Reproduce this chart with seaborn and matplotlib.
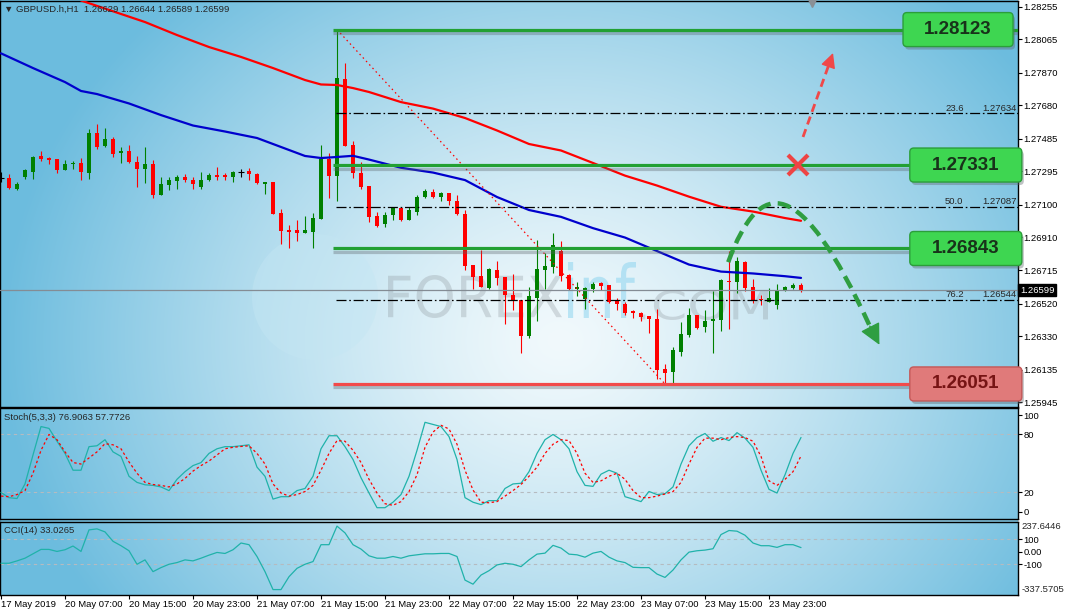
import numpy as np
import pandas as pd
import matplotlib
matplotlib.use('Agg')
import matplotlib.pyplot as plt
import seaborn as sns
import matplotlib.patheffects as pe
from matplotlib.patches import FancyBboxPatch, PathPatch, Circle
from matplotlib.path import Path
from matplotlib.textpath import TextPath
from matplotlib.font_manager import FontProperties
from matplotlib.transforms import Affine2D, IdentityTransform, blended_transform_factory

sns.set_style('white')
plt.rcParams['font.family'] = ['Liberation Sans', 'DejaVu Sans']
plt.rcParams['font.size'] = 6.8

# ---- data: GBPUSD H1, 17 May 23:00 .. 24 May 03:00 (101 bars) ----
o = [1.27255, 1.27255, 1.27190, 1.27261, 1.27290, 1.27384, 1.27374, 1.27366, 1.27302, 1.27335,
     1.27344, 1.27284, 1.27518, 1.27442, 1.27483, 1.27403, 1.27413, 1.27350, 1.27309, 1.27337,
     1.27155, 1.27214, 1.27239, 1.27261, 1.27245, 1.27202, 1.27243, 1.27274, 1.27272, 1.27261,
     1.27290, 1.27294, 1.27280, 1.27221, 1.27231, 1.27048, 1.26952, 1.26951, 1.26935, 1.26941,
     1.27017, 1.27366, 1.27268, 1.27834, 1.27448, 1.27286, 1.27208, 1.27032, 1.26986, 1.27038,
     1.27079, 1.27009, 1.27058, 1.27142, 1.27175, 1.27145, 1.27167, 1.27118, 1.27046, 1.26744,
     1.26685, 1.26611, 1.26717, 1.26676, 1.26574, 1.26543, 1.26332, 1.26554, 1.26717, 1.26734,
     1.26828, 1.26687, 1.26607, 1.26547, 1.26607, 1.26641, 1.26629, 1.26542, 1.26520, 1.26475,
     1.26465, 1.26446, 1.26430, 1.26138, 1.26122, 1.26239, 1.26336, 1.26452, 1.26383, 1.26420,
     1.26426, 1.26652, 1.26648, 1.26762, 1.26617, 1.26547, 1.26531, 1.26513, 1.26594, 1.26613,
     1.26629]
h = [1.27290, 1.27279, 1.27231, 1.27308, 1.27384, 1.27413, 1.27380, 1.27368, 1.27360, 1.27356,
     1.27374, 1.27541, 1.27571, 1.27547, 1.27495, 1.27438, 1.27449, 1.27384, 1.27436, 1.27360,
     1.27261, 1.27262, 1.27272, 1.27276, 1.27261, 1.27290, 1.27284, 1.27319, 1.27284, 1.27296,
     1.27309, 1.27312, 1.27284, 1.27231, 1.27231, 1.27075, 1.26980, 1.27009, 1.27035, 1.27048,
     1.27448, 1.27401, 1.28123, 1.27929, 1.27471, 1.27348, 1.27208, 1.27054, 1.27058, 1.27085,
     1.27085, 1.27083, 1.27154, 1.27189, 1.27189, 1.27173, 1.27167, 1.27157, 1.27066, 1.26744,
     1.26832, 1.26730, 1.26771, 1.26676, 1.26695, 1.26543, 1.26619, 1.26892, 1.26814, 1.26933,
     1.26886, 1.26695, 1.26645, 1.26619, 1.26648, 1.26646, 1.26629, 1.26551, 1.26531, 1.26483,
     1.26471, 1.26446, 1.26489, 1.26167, 1.26268, 1.26413, 1.26498, 1.26457, 1.26483, 1.26594,
     1.26665, 1.26828, 1.26794, 1.26769, 1.26664, 1.26569, 1.26613, 1.26636, 1.26625, 1.26641,
     1.26644]
l = [1.27231, 1.27190, 1.27185, 1.27249, 1.27249, 1.27354, 1.27337, 1.27286, 1.27302, 1.27308,
     1.27243, 1.27249, 1.27425, 1.27436, 1.27378, 1.27344, 1.27343, 1.27204, 1.27227, 1.27139,
     1.27155, 1.27185, 1.27190, 1.27233, 1.27190, 1.27192, 1.27239, 1.27243, 1.27241, 1.27231,
     1.27262, 1.27243, 1.27221, 1.27163, 1.27046, 1.26869, 1.26844, 1.26888, 1.26931, 1.26847,
     1.27017, 1.27138, 1.27122, 1.27444, 1.27256, 1.27189, 1.26996, 1.26966, 1.26966, 1.27011,
     1.27003, 1.27009, 1.27040, 1.27138, 1.27138, 1.27120, 1.27099, 1.27038, 1.26717, 1.26607,
     1.26617, 1.26604, 1.26629, 1.26401, 1.26481, 1.26233, 1.26317, 1.26420, 1.26609, 1.26701,
     1.26652, 1.26598, 1.26566, 1.26487, 1.26590, 1.26601, 1.26524, 1.26483, 1.26455, 1.26437,
     1.26420, 1.26346, 1.26078, 1.26051, 1.26054, 1.26215, 1.26325, 1.26370, 1.26356, 1.26233,
     1.26360, 1.26375, 1.26584, 1.26595, 1.26525, 1.26513, 1.26531, 1.26492, 1.26592, 1.26605,
     1.26589]
c = [1.27255, 1.27196, 1.27220, 1.27302, 1.27378, 1.27366, 1.27362, 1.27302, 1.27337, 1.27344,
     1.27290, 1.27520, 1.27436, 1.27483, 1.27396, 1.27415, 1.27348, 1.27308, 1.27337, 1.27155,
     1.27220, 1.27243, 1.27262, 1.27245, 1.27221, 1.27243, 1.27272, 1.27262, 1.27259, 1.27292,
     1.27290, 1.27278, 1.27227, 1.27231, 1.27046, 1.26947, 1.26939, 1.26935, 1.26952, 1.27023,
     1.27366, 1.27268, 1.27840, 1.27444, 1.27286, 1.27204, 1.27028, 1.26974, 1.27037, 1.27081,
     1.27009, 1.27068, 1.27142, 1.27180, 1.27142, 1.27167, 1.27122, 1.27046, 1.26742, 1.26677,
     1.26617, 1.26721, 1.26672, 1.26572, 1.26539, 1.26332, 1.26564, 1.26724, 1.26740, 1.26863,
     1.26685, 1.26605, 1.26617, 1.26611, 1.26635, 1.26625, 1.26529, 1.26516, 1.26467, 1.26463,
     1.26443, 1.26428, 1.26132, 1.26116, 1.26249, 1.26342, 1.26452, 1.26381, 1.26418, 1.26430,
     1.26659, 1.26646, 1.26767, 1.26611, 1.26537, 1.26539, 1.26553, 1.26592, 1.26617, 1.26628,
     1.26599]

# moving averages, read at every few bars
red_ma_bar = [10, 14, 18, 22, 26, 30, 34, 38, 40, 42, 44, 46, 50, 54, 58, 62, 66, 70, 74, 78,
              82, 86, 90, 94, 98, 100]
red_ma = [1.28293, 1.28230, 1.28167, 1.28091, 1.28021, 1.27963, 1.27898, 1.27828, 1.27802,
          1.27799, 1.27781, 1.27758, 1.27699, 1.27661, 1.27606, 1.27533, 1.27454, 1.27416,
          1.27343, 1.27269, 1.27211, 1.27146, 1.27087, 1.27059, 1.27021, 1.27005]
blue_ma_bar = [0, 4, 8, 10, 12, 16, 20, 24, 28, 32, 36, 38, 40, 42, 44, 46, 50, 54, 58, 62, 66,
               70, 74, 78, 82, 86, 90, 94, 98, 100]
blue_ma = [1.27984, 1.27898, 1.27816, 1.27764, 1.27746, 1.27691, 1.27623, 1.27562, 1.27527,
           1.27489, 1.27419, 1.27384, 1.27372, 1.27378, 1.27385, 1.27363, 1.27315, 1.27287,
           1.27243, 1.27144, 1.27068, 1.27028, 1.26962, 1.26907, 1.26828, 1.26749, 1.26708,
           1.26697, 1.26681, 1.26671]

stoch_main = [20.0, 14.6, 13.7, 28.8, 58.8, 88.2, 86.3, 73.0, 60.4, 43.0,
              43.0, 67.4, 68.3, 74.6, 62.0, 57.3, 36.7, 30.4, 27.9, 27.3,
              25.7, 21.9, 33.6, 41.5, 47.8, 50.9, 60.4, 65.2, 67.4, 67.4,
              68.3, 69.3, 46.2, 36.7, 13.1, 15.6, 15.6, 21.9, 24.1, 36.7,
              65.2, 78.7, 78.7, 67.4, 54.1, 35.2, 19.4, 4.2, 4.2, 9.9,
              17.8, 36.7, 63.6, 92.6, 90.4, 88.2, 77.8, 54.1, 14.6, 9.9,
              7.4, 11.5, 11.5, 24.1, 28.8, 29.5, 41.5, 60.4, 74.6, 80.0,
              74.6, 65.2, 41.5, 27.3, 26.3, 38.9, 43.0, 39.9, 15.6, 13.1,
              10.5, 21.0, 17.8, 18.7, 25.7, 49.4, 68.3, 76.8, 81.0, 73.0,
              76.8, 73.7, 81.9, 76.2, 66.7, 43.0, 23.2, 19.4, 38.3, 60.4,
              76.9063]
stoch_signal = [16.2, 15.6, 17.8, 21.9, 39.9, 63.6, 80.0, 74.6, 62.0, 51.0,
                49.4, 55.7, 62.0, 70.5, 69.3, 65.2, 51.6, 39.9, 30.4, 28.2,
                27.3, 25.7, 28.8, 34.5, 42.1, 47.8, 52.5, 58.8, 65.2, 66.7,
                67.6, 68.3, 60.4, 49.4, 28.8, 19.4, 16.2, 17.8, 20.9, 27.3,
                43.0, 60.4, 73.7, 73.0, 63.6, 51.0, 33.6, 19.4, 8.3, 6.7,
                10.5, 20.9, 38.3, 66.7, 82.5, 89.5, 85.7, 69.9, 43.0, 22.5,
                9.9, 9.3, 10.5, 16.2, 21.9, 28.2, 36.7, 46.2, 60.4, 69.9,
                74.6, 73.7, 60.4, 39.9, 30.4, 32.0, 36.7, 39.9, 33.6, 21.9,
                14.6, 14.6, 16.2, 18.4, 20.9, 30.4, 49.4, 66.7, 76.2, 76.2,
                74.6, 76.8, 77.8, 76.8, 73.0, 57.3, 32.0, 27.3, 33.6, 41.5,
                57.7726]
cci = [-90.7, -90.7, -72.0, -50.7, -16.0, 18.7, 18.7, 2.7, 16.0, 45.3,
       2.7, 173.0, 181.0, 157.0, 82.7, 48.0, 8.0, -98.7, -64.0, -157.0,
       -125.0, -98.7, -85.3, -64.0, -72.0, -50.7, -26.7, -5.3, -13.3, 16.0,
       69.3, 56.0, -37.3, -157.0, -298.7, -298.7, -197.0, -130.7, -98.7, -77.3,
       56.0, 56.0, 202.7, 149.3, 56.0, 21.3, -32.0, -50.7, -50.7, -37.3,
       -50.7, -32.0, -24.0, -16.0, -16.0, -13.3, -13.3, -37.3, -224.0, -256.0,
       -184.0, -149.3, -104.0, -90.7, -98.7, -117.3, -64.0, -18.7, -10.7, 50.7,
       29.3, -18.7, -24.0, -42.7, -10.7, 2.7, -42.7, -72.0, -85.3, -122.7,
       -125.3, -125.3, -176.0, -202.7, -144.0, -64.0, -2.7, 8.0, 13.3, 24.0,
       136.0, 168.0, 162.7, 130.7, 69.3, 48.0, 48.0, 34.7, 56.0, 56.0,
       33.0265]

price_ticks = [1.28255, 1.28065, 1.27870, 1.27680, 1.27485, 1.27295, 1.27100,
               1.26910, 1.26715, 1.26520, 1.26330, 1.26135, 1.25945]
tick_bars = [0, 8, 16, 24, 32, 40, 48, 56, 64, 72, 80, 88, 96]
tick_labels = ['17 May 2019', '20 May 07:00', '20 May 15:00', '20 May 23:00', '21 May 07:00',
               '21 May 15:00', '21 May 23:00', '22 May 07:00', '22 May 15:00', '22 May 23:00',
               '23 May 07:00', '23 May 15:00', '23 May 23:00']

levels = [1.28123, 1.27331, 1.26843]
support = 1.26051
fib_pct = ['0.0', '23.6', '50.0', '76.2', '100.0']
fib_price = [1.28123, 1.27634, 1.27087, 1.26544, 1.26051]
last_price = 1.26599

df = pd.DataFrame({'bar': np.arange(len(o)), 'open': o, 'high': h, 'low': l, 'close': c})
ind = pd.DataFrame({'bar': df['bar'], 'main': stoch_main, 'signal': stoch_signal, 'cci': cci})

# ---- figure layout (pixel based, 1068x610) ----
W, H = 1068, 610
fig = plt.figure(figsize=(W / 100, H / 100), dpi=100)


def px_rect(x0, y0, x1, y1):
    return [x0 / W, 1 - y1 / H, (x1 - x0) / W, (y1 - y0) / H]


# background gradient like the terminal template
yy, xx = np.mgrid[0:H, 0:W]
r = np.sqrt((xx - 560.0) ** 2 + ((yy - 340.0) / 0.85) ** 2)
t = np.clip(r / 560.0, 0, 1) ** 1.3
dark = np.array([108, 188, 222]) / 255
bright = np.array([241, 249, 252]) / 255
img = bright * (1 - t[..., None]) + dark * t[..., None]
img[:, 1018:] = 1
img[595:, :] = 1
bg = fig.add_axes([0, 0, 1, 1], zorder=-10)
bg.imshow(img, aspect='auto', interpolation='bilinear')
bg.axis('off')

ax = fig.add_axes(px_rect(0, 0.5, 1017.5, 406.7))
ax_st = fig.add_axes(px_rect(0, 408.4, 1017.5, 519))
ax_cci = fig.add_axes(px_rect(0, 521.7, 1017.5, 594.5))

xlim = (-0.125, 127.06)
ax.set_xlim(*xlim)
ax.set_ylim(1.25918, 1.28293)
ax_st.set_xlim(*xlim)
ax_st.set_ylim(-7.5, 107)
ax_cci.set_xlim(*xlim)
ax_cci.set_ylim(-337.5705, 237.6446)

for a in (ax, ax_st, ax_cci):
    a.set_facecolor('none')
    for s in a.spines.values():
        s.set_color('black')
        s.set_linewidth(1)
    a.yaxis.tick_right()
    a.tick_params(axis='y', right=True, left=False, labelright=True, labelleft=False,
                  length=3, width=0.8, pad=1.5, labelsize=6.8, colors='black')

ax.set_xticks([])
ax_st.set_xticks([])

# ---- watermark ----
def watermark(s, px0, py0, px1, py1, color, alpha):
    tp = TextPath((0, 0), s, size=100, prop=FontProperties(family='DejaVu Sans'))
    ext = tp.get_extents()
    tr = (Affine2D().translate(-ext.x0, -ext.y0)
          .scale((px1 - px0) / ext.width, (py1 - py0) / ext.height)
          .translate(px0, H - py1))
    ax.add_patch(PathPatch(tr.transform_path(tp), fc=color, ec='none', alpha=alpha,
                           transform=IdentityTransform(), zorder=1))


ax.add_patch(Circle((315, H - 297), 63, transform=IdentityTransform(), fc='#c4e6f3',
                    ec='none', alpha=0.45, zorder=1))
watermark('FOREX', 388, 275, 562, 318, '#8a9399', 0.3)
watermark('inf', 568, 262, 636, 318, '#86d2ef', 0.5)
watermark('.COM', 640, 290, 768, 320, '#8a9399', 0.3)

# ---- candles ----
colors = np.where(df['close'] > df['open'], '#008000',
                  np.where(df['close'] < df['open'], '#ff0000', '#000000'))
ax.vlines(df['bar'], df['low'], df['high'], colors=colors, lw=0.8, zorder=3)
ax.bar(df['bar'], (df['close'] - df['open']).abs(), bottom=df[['open', 'close']].min(axis=1),
       width=0.62, color=colors, lw=0, zorder=3.1)
doji = df[df['close'] == df['open']]
ax.hlines(doji['open'], doji['bar'] - 0.4, doji['bar'] + 0.4, colors='black', lw=0.8, zorder=3.1)

# ---- moving averages ----
sns.lineplot(x=red_ma_bar, y=red_ma, ax=ax, color='#ff0000', lw=1.6, zorder=4)
sns.lineplot(x=blue_ma_bar, y=blue_ma, ax=ax, color='#0000cd', lw=1.6, zorder=4)

# ---- fibonacci ----
fib_start = 41.9
for pct, fp in zip(fib_pct, fib_price):
    ax.plot([fib_start, xlim[1]], [fp, fp], color='black', lw=0.9,
            ls=(0, (8, 2.2, 1.3, 2.2)), zorder=5)
    if pct in ('0.0', '100.0'):
        continue  # these labels sit under the level boxes
    ax.text(118, fp + 0.00004, pct, fontsize=6.8, va='bottom', ha='left', zorder=5)
    ax.text(0.999, fp + 0.00004, f'{fp:.5f}', fontsize=6.8, va='bottom', ha='right', zorder=5,
            transform=blended_transform_factory(ax.transAxes, ax.transData))
ax.plot([42, 83], [fib_price[0], fib_price[-1]], color='#ff0000', lw=0.9,
        ls=(0, (1.2, 2.6)), zorder=5)

# ---- support / resistance ----
shadow = [pe.SimpleLineShadow(offset=(0, -2.5), shadow_color='#5a6268', alpha=0.35), pe.Normal()]
for lv in levels:
    ax.plot([41.5, xlim[1]], [lv, lv], color='#22a033', lw=2.3, zorder=5.5,
            solid_capstyle='butt', path_effects=shadow)
ax.plot([41.5, xlim[1]], [support, support], color='#f24a4a', lw=2.3, zorder=5.5,
        solid_capstyle='butt', path_effects=shadow)
ax.axhline(last_price, color='#848c94', lw=0.9, zorder=5.6)


def level_box(price, xb0, xb1, fc, ec, tc):
    x0, yc = ax.transData.transform((xb0, price))
    x1, _ = ax.transData.transform((xb1, price))
    hgt = 34
    ax.add_patch(FancyBboxPatch((x0 + 2, yc - hgt / 2 - 3), x1 - x0, hgt,
                                boxstyle='round,pad=0,rounding_size=4', fc='#5f676d', ec='none',
                                alpha=0.4, transform=IdentityTransform(), zorder=6, clip_on=False))
    ax.add_patch(FancyBboxPatch((x0, yc - hgt / 2), x1 - x0, hgt,
                                boxstyle='round,pad=0,rounding_size=4', fc=fc, ec=ec, lw=1,
                                transform=IdentityTransform(), zorder=6.1, clip_on=False))
    ax.text((x0 + x1) / 2, yc, f'{price:.5f}', transform=IdentityTransform(), ha='center',
            va='center', fontsize=13.5, fontweight='bold', color=tc, zorder=6.2)


level_box(levels[0], 112.75, 126.5, '#3ed651', '#2b9e3a', '#18321a')
level_box(levels[1], 113.6, 127.6, '#3ed651', '#2b9e3a', '#18321a')
level_box(levels[2], 113.6, 127.6, '#3ed651', '#2b9e3a', '#18321a')
level_box(support, 113.6, 127.6, '#e07a7a', '#c45858', '#761414')

# ---- scenario drawings ----
red_start = (100.25, 1.27495)
red_base = (103.5, 1.27920)
red_tip = (104.0, 1.27986)
ax.plot([red_start[0], red_base[0]], [red_start[1], red_base[1]], color='#f04848', lw=2,
        ls=(0, (3, 1.8)), zorder=7)
ax.annotate('', xy=red_tip, xytext=red_base,
            arrowprops=dict(arrowstyle='-|>,head_length=0.9,head_width=0.45', color='#f04848',
                            lw=1, shrinkA=0, shrinkB=0, mutation_scale=10), zorder=7)
ax.plot([99.6], [levels[1]], marker='x', ms=15, mew=3, color='#ee4444', zorder=7)

curve = [(90.9, 1.26763), (94.9, 1.27272), (99.9, 1.27272), (108.6, 1.26389)]
green_tip = (109.8, 1.26280)
ax.add_patch(PathPatch(Path(curve, [Path.MOVETO, Path.CURVE4, Path.CURVE4, Path.CURVE4]),
                       fill=False, ec='#2f9e41', lw=3.2, ls=(0, (3, 1.6)), zorder=7,
                       capstyle='butt'))
ax.annotate('', xy=green_tip, xytext=curve[-1],
            arrowprops=dict(arrowstyle='-|>,head_length=1.3,head_width=0.65', color='#2f9e41',
                            lw=1, shrinkA=0, shrinkB=0, mutation_scale=10), zorder=7)

# ---- price axis ----
ax.set_yticks(price_ticks)
ax.set_yticklabels([f'{v:.5f}' for v in price_ticks])
ax.text(1.0025, last_price, f'{last_price:.5f}', color='white', fontsize=6.8, va='center',
        ha='left', transform=blended_transform_factory(ax.transAxes, ax.transData),
        bbox=dict(fc='black', ec='black', pad=1.2), zorder=8, clip_on=False)
ax.plot([0.798], [0.993], marker='v', ms=6, color='#8a9096', transform=ax.transAxes,
        clip_on=False, zorder=8)
ax.text(0.004, 0.979, '\u25bc GBPUSD.h,H1  1.26629 1.26644 1.26589 1.26599',
        transform=ax.transAxes, fontsize=6.8, va='center', ha='left', zorder=8)

# ---- stochastic ----
for lvl in (80, 20):
    ax_st.axhline(lvl, color='#b5bbc0', lw=0.8, ls=(0, (3, 3)), zorder=2)
sns.lineplot(data=ind, x='bar', y='main', ax=ax_st, color='#20b2aa', lw=0.9, zorder=4)
sns.lineplot(data=ind, x='bar', y='signal', ax=ax_st, color='#ff0000', lw=0.9,
             linestyle=(0, (2, 2)), zorder=4)
ax_st.set_yticks([0, 20, 80, 100])
ax_st.set_yticklabels(['0', '20', '80', '100'])
ax_st.set_xticks([])
ax_st.set_xlabel('')
ax_st.set_ylabel('')
ax_st.text(0.004, 0.916, 'Stoch(5,3,3) 76.9063 57.7726', transform=ax_st.transAxes,
           fontsize=6.8, va='center', ha='left')

# ---- CCI ----
for lvl in (100, -100):
    ax_cci.axhline(lvl, color='#b5bbc0', lw=0.8, ls=(0, (3, 3)), zorder=2)
sns.lineplot(data=ind, x='bar', y='cci', ax=ax_cci, color='#20b2aa', lw=0.9, zorder=4)
ax_cci.set_yticks([100, 0, -100])
ax_cci.set_yticklabels(['100', '0.00', '-100'])
ax_cci.text(1.004, 0.995, '237.6446', transform=ax_cci.transAxes, fontsize=6.8, va='top',
            ha='left')
ax_cci.text(1.004, 0.01, '-337.5705', transform=ax_cci.transAxes, fontsize=6.8, va='bottom',
            ha='left')
ax_cci.text(0.004, 0.876, 'CCI(14) 33.0265', transform=ax_cci.transAxes, fontsize=6.8,
            va='center', ha='left')
ax_cci.set_xticks(tick_bars)
ax_cci.set_xticklabels(tick_labels, ha='left')
ax_cci.tick_params(axis='x', bottom=True, length=3, width=0.8, pad=1, labelsize=6.8,
                   colors='black')
ax_cci.set_xlabel('')
ax_cci.set_ylabel('')

plt.savefig('out.png', dpi=100)
plt.close()
